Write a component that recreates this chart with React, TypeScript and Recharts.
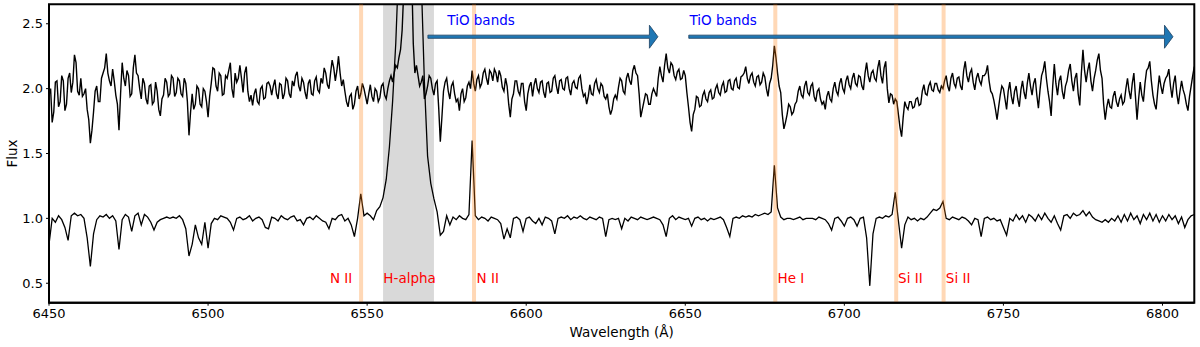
import React from 'react';
import {
  LineChart, Line, XAxis, YAxis, ReferenceLine, ReferenceArea, ReferenceDot,
} from 'recharts';

// Wavelength sampling (Å): whole-Å grid from 6450 to 6810
const WL_START = 6450;
const WL_STEP = 1;

// Upper spectrum (flux) at whole-Å positions 6450, 6451, ...
const UPPER_FLUX = [
  1.95, 1.74, 2.05, 1.86, 2.10, 1.83, 2.08, 1.97, 2.26, 1.98,
  2.08, 1.96, 1.84, 1.58, 1.82, 2.02, 1.90, 2.12, 2.27, 2.06,
  2.15, 1.95, 1.68, 2.20, 2.02, 2.10, 1.96, 2.26, 2.10, 1.92,
  2.04, 1.88, 2.03, 1.90, 1.98, 1.79, 1.95, 2.05, 1.96, 2.08,
  1.97, 2.06, 1.94, 2.04, 1.64, 1.96, 1.88, 2.00, 1.86, 1.98,
  1.78, 2.04, 2.15, 1.98, 2.10, 1.96, 2.08, 2.20, 1.93, 2.05,
  2.18, 1.97, 2.17, 1.90, 1.87, 2.00, 1.88, 2.02, 1.93, 2.05,
  1.95, 2.07, 1.92, 2.03, 1.96, 2.06, 1.93, 2.02, 2.13, 1.98,
  2.05, 1.92, 2.07, 1.95, 2.09, 1.97, 2.04, 2.12, 2.00, 2.22,
  2.06, 2.25, 2.02, 1.98, 1.86, 1.96, 1.88, 2.02, 1.96, 2.00,
  1.88, 2.03, 1.90, 1.98, 1.93, 2.04, 1.92, 2.06, 2.05, 2.18,
  2.24, 2.45, 3.20, 3.80, 2.90, 2.12, 2.10, 2.05, 1.92, 2.02,
  2.08, 1.95, 2.06, 1.59, 1.98, 2.08, 1.92, 2.05, 1.90, 1.83,
  2.00, 1.93, 2.05, 2.14, 1.98, 2.10, 2.04, 2.15, 2.03, 2.12,
  2.15, 2.05, 2.10, 1.98, 2.02, 1.78, 1.96, 2.06, 1.95, 2.04,
  1.83, 2.02, 1.94, 2.08, 1.97, 2.06, 1.93, 2.05, 1.98, 2.10,
  1.96, 2.07, 1.99, 2.09, 1.95, 2.06, 2.00, 2.10, 1.94, 1.88,
  2.03, 1.95, 2.07, 1.97, 2.02, 1.92, 1.86, 1.84, 1.95, 2.01,
  2.06, 1.96, 2.12, 2.03, 2.18, 2.10, 1.78, 1.90, 1.95, 1.88,
  2.00, 1.94, 2.17, 2.05, 2.27, 2.12, 2.18, 2.07, 2.15, 2.08,
  2.10, 1.86, 1.67, 1.84, 1.93, 1.87, 1.98, 1.90, 1.99, 1.93,
  2.03, 1.95, 2.05, 1.98, 2.07, 1.99, 2.08, 2.00, 2.10, 2.17,
  2.04, 2.12, 2.02, 2.10, 2.05, 2.09, 1.94, 2.08, 2.33, 2.12,
  1.97, 1.69, 1.80, 1.86, 1.82, 1.90, 2.02, 1.93, 2.06, 1.95,
  2.04, 1.90, 2.00, 1.88, 1.84, 1.98, 1.90, 2.05, 1.95, 2.08,
  1.97, 2.10, 2.00, 2.12, 2.02, 2.09, 1.99, 2.20, 2.05, 2.14,
  2.06, 2.22, 2.04, 2.21, 1.89, 1.95, 1.92, 1.80, 1.63, 1.90,
  1.84, 1.90, 1.86, 1.93, 1.88, 2.03, 1.95, 2.05, 1.98, 2.04,
  1.97, 2.00, 2.10, 1.98, 2.12, 2.01, 2.09, 1.99, 2.21, 2.05,
  2.15, 1.99, 2.12, 2.03, 2.10, 2.18, 1.98, 1.91, 1.76, 1.95,
  2.00, 1.84, 2.05, 1.88, 2.02, 1.86, 2.06, 1.92, 2.12, 1.95,
  2.08, 1.85, 2.10, 2.21, 1.98, 1.79, 2.19, 1.95, 2.10, 1.92,
  2.06, 2.19, 1.98, 2.12, 1.87, 2.30, 2.05, 2.20, 1.98, 2.14,
  2.27, 2.08, 1.76, 1.92, 1.85, 1.98, 1.86, 1.95, 1.90, 2.08,
  1.92, 2.12, 1.76, 2.05, 1.90, 2.14, 2.21, 1.95, 1.84, 2.10,
  1.96, 2.08, 2.15, 1.93, 2.10, 1.88, 2.06, 1.95, 1.83, 2.02,
  2.17,
];

// Upper spectrum (flux) at half-Å positions 6450.5, 6451.5, ...
const UPPER_FLUX_HALF = [
  2.00, 1.82, 2.06, 1.90, 2.06, 1.88, 2.12, 2.05, 2.20, 1.95,
  1.94, 2.00, 1.76, 1.68, 1.98, 1.90, 2.08, 2.16, 2.12, 2.02,
  2.06, 1.88, 1.96, 2.08, 2.14, 1.94, 2.16, 2.12, 2.00, 2.08,
  1.92, 2.02, 1.88, 2.05, 1.84, 1.92, 2.08, 1.94, 2.10, 1.94,
  2.08, 1.96, 2.08, 1.90, 1.82, 1.84, 2.02, 1.88, 2.00, 1.90,
  1.94, 2.16, 2.02, 2.12, 1.95, 2.10, 2.14, 2.00, 2.12, 2.08,
  2.08, 2.12, 1.98, 1.95, 1.96, 1.90, 2.00, 1.92, 2.04, 2.02,
  2.02, 1.96, 2.04, 1.92, 2.08, 1.96, 2.06, 2.10, 2.02, 2.08,
  1.97, 2.04, 1.96, 2.06, 1.99, 2.08, 2.16, 2.03, 2.12, 2.16,
  2.14, 2.12, 2.07, 1.90, 1.94, 1.84, 1.98, 1.92, 2.04, 1.94,
  1.96, 1.94, 2.00, 1.90, 2.02, 1.95, 2.00, 2.10, 2.12, 2.16,
  2.30, 2.75, 3.60, 3.50, 2.35, 2.18, 2.02, 2.10, 1.96, 2.10,
  2.00, 2.04, 1.85, 1.78, 2.05, 1.98, 2.02, 1.96, 1.92, 1.96,
  1.90, 2.02, 2.00, 2.04, 2.07, 2.01, 2.12, 2.08, 2.14, 2.06,
  2.12, 2.14, 2.01, 2.08, 1.88, 1.92, 2.06, 1.98, 2.04, 1.90,
  1.96, 2.05, 2.03, 2.00, 2.05, 1.97, 2.04, 1.97, 2.08, 2.02,
  2.06, 2.00, 2.08, 2.00, 2.04, 2.01, 2.08, 2.00, 1.96, 1.94,
  1.96, 2.04, 2.00, 2.04, 1.94, 1.96, 1.80, 1.92, 1.92, 2.08,
  1.98, 2.08, 2.06, 2.14, 2.12, 1.96, 1.84, 1.96, 1.88, 1.96,
  1.97, 2.08, 2.10, 2.18, 2.16, 2.20, 2.10, 2.13, 2.07, 2.14,
  1.97, 1.74, 1.80, 1.94, 1.86, 1.95, 1.92, 1.97, 1.92, 2.00,
  1.97, 2.02, 1.97, 2.06, 2.00, 2.06, 2.01, 2.09, 2.12, 2.08,
  2.10, 2.05, 2.09, 2.03, 2.12, 2.00, 2.04, 2.18, 2.24, 2.02,
  1.80, 1.74, 1.88, 1.80, 1.88, 1.98, 1.95, 2.02, 1.97, 2.02,
  1.94, 1.98, 1.92, 1.90, 1.94, 1.92, 2.00, 1.98, 2.04, 2.00,
  2.06, 2.03, 2.08, 2.04, 2.10, 2.02, 2.12, 2.10, 2.12, 2.08,
  2.16, 2.10, 2.16, 2.00, 1.96, 1.88, 1.90, 1.70, 1.78, 1.86,
  1.90, 1.85, 1.92, 1.87, 1.98, 1.96, 2.02, 1.99, 2.04, 1.99,
  2.02, 2.06, 2.02, 2.08, 2.04, 2.08, 2.02, 2.14, 2.10, 2.12,
  2.05, 2.08, 2.06, 2.10, 2.12, 2.06, 1.96, 1.84, 1.86, 2.02,
  1.92, 1.98, 1.94, 1.98, 1.92, 1.99, 1.97, 2.04, 2.02, 2.04,
  1.95, 1.99, 2.14, 2.08, 1.90, 2.02, 2.04, 2.06, 1.98, 2.02,
  2.14, 2.06, 2.08, 1.96, 2.12, 2.14, 2.14, 2.06, 2.08, 2.22,
  2.14, 1.88, 1.86, 1.86, 1.94, 1.90, 1.92, 1.88, 2.00, 1.98,
  2.04, 1.94, 1.92, 1.95, 2.04, 2.16, 2.06, 1.88, 1.98, 2.02,
  2.04, 2.10, 2.02, 2.04, 1.96, 1.98, 1.99, 1.88, 1.94, 2.10,
];

// Lower spectrum (flux) at whole-Å positions 6450, 6451, ...
const LOWER_FLUX = [
  0.80, 1.00, 0.97, 1.02, 0.99, 0.93, 0.83, 1.02, 1.04, 1.02,
  1.03, 1.00, 0.85, 0.63, 0.88, 0.99, 1.02, 1.01, 1.03, 1.00,
  1.02, 0.98, 0.76, 0.99, 1.03, 1.01, 0.90, 1.02, 1.04, 0.95,
  1.03, 1.01, 0.97, 0.91, 0.97, 0.99, 1.00, 1.01, 1.00, 1.01,
  1.00, 1.02, 0.99, 0.92, 0.71, 0.80, 0.95, 0.85, 0.80, 0.97,
  0.77, 0.96, 1.00, 0.99, 1.02, 1.01, 1.00, 0.97, 0.91, 1.00,
  1.01, 0.99, 1.00, 1.02, 0.98, 1.00, 1.01, 0.99, 0.93, 0.92,
  1.01, 1.00, 0.98, 1.02, 1.00, 0.99, 1.01, 1.02, 0.98, 0.99,
  0.95, 1.00, 1.01, 0.99, 1.02, 1.00, 0.98, 0.97, 0.92, 1.00,
  0.99, 1.02, 1.03, 0.98, 1.00, 0.95, 0.86, 1.00, 1.19, 1.02,
  1.04, 1.02, 0.99, 1.06, 1.09, 1.16, 1.30, 1.55, 1.90, 2.35,
  3.00, 3.60, 4.00, 4.20, 4.00, 3.60, 3.10, 2.85, 2.05, 1.48,
  1.27, 1.15, 1.05, 0.87, 0.90, 1.02, 0.95, 1.01, 0.99, 1.02,
  1.00, 0.99, 1.03, 1.60, 1.02, 0.99, 1.01, 1.00, 0.98, 1.01,
  1.00, 0.99, 0.96, 0.84, 0.92, 0.85, 1.00, 1.01, 0.99, 0.90,
  1.00, 1.01, 0.98, 0.96, 1.00, 0.95, 1.01, 1.00, 0.98, 0.88,
  1.00, 1.01, 1.00, 1.02, 0.99, 1.01, 1.00, 1.02, 1.00, 0.99,
  1.01, 1.00, 0.99, 1.01, 1.00, 0.86, 0.99, 1.00, 0.99, 1.00,
  0.92, 1.00, 0.98, 1.01, 1.00, 0.99, 1.01, 1.00, 0.99, 1.00,
  1.01, 1.00, 0.99, 0.95, 0.86, 1.00, 1.02, 0.99, 1.01, 1.00,
  0.99, 1.00, 0.94, 1.00, 1.01, 0.99, 1.00, 0.98, 1.00, 0.99,
  1.00, 1.01, 0.99, 0.93, 0.86, 1.00, 1.01, 1.00, 1.02, 1.01,
  1.02, 1.01, 1.03, 1.02, 1.03, 1.04, 1.03, 1.05, 1.41, 1.08,
  1.01, 0.99, 1.00, 1.00, 0.99, 1.00, 1.01, 0.99, 1.00, 1.00,
  1.00, 0.99, 1.01, 1.00, 0.99, 0.96, 0.91, 1.00, 1.01, 0.98,
  0.94, 1.00, 1.01, 0.99, 0.94, 1.00, 1.01, 0.85, 0.48, 0.88,
  1.00, 1.01, 1.00, 1.02, 1.01, 1.03, 1.20, 0.98, 0.77, 0.95,
  1.01, 0.99, 1.00, 0.98, 1.00, 0.99, 1.01, 1.04, 1.07, 1.06,
  1.08, 1.13, 1.00, 0.99, 1.01, 1.00, 0.99, 1.01, 1.00, 0.98,
  0.95, 1.00, 0.99, 0.86, 1.00, 1.01, 0.99, 1.00, 0.98, 0.99,
  0.93, 0.87, 1.00, 0.98, 1.03, 0.99, 1.02, 0.97, 1.03, 1.01,
  0.98, 1.03, 0.99, 1.04, 1.00, 0.97, 1.02, 0.96, 0.91, 1.02,
  1.03, 1.00, 1.04, 1.02, 1.03, 1.06, 1.02, 1.05, 1.01, 0.99,
  0.98, 0.97, 0.99, 0.97, 1.00, 0.98, 1.02, 0.97, 1.03, 0.98,
  1.04, 0.99, 1.02, 0.96, 1.03, 0.99, 1.04, 0.98, 1.03, 0.97,
  1.02, 0.98, 1.03, 0.99, 1.02, 0.96, 1.01, 0.93, 0.99, 1.02,
  1.03,
];

const X_TICKS = [6450, 6500, 6550, 6600, 6650, 6700, 6750, 6800];
const Y_TICKS = [0.5, 1.0, 1.5, 2.0, 2.5];
const X_DOMAIN = [6450, 6810];
const Y_DOMAIN = [0.35, 2.65];

// Marked spectral lines
const LINE_WAVELENGTHS = [6548.1, 6583.6, 6678.3, 6716.3, 6731.2];
const LINE_LABELS = ['N II', 'H-alpha', 'N II', 'He I', 'Si II', 'Si II'];
const LINE_LABEL_X = [6538.3, 6555.1, 6584.4, 6679.0, 6716.9, 6731.9];
const LINE_LABEL_Y = 0.5;

// H-alpha shaded window
const HALPHA_BAND = [6555, 6571];

// TiO band arrows
const TIO_ARROW_START = [6569.1, 6651.1];
const TIO_ARROW_END = [6641.4, 6803.3];
const TIO_ARROW_Y = 2.4;
const TIO_LABEL = 'TiO bands';
const TIO_LABEL_X = [6575.2, 6651.3];
const TIO_LABEL_Y = 2.49;

const upperData: { wl: number; flux: number }[] = [];
UPPER_FLUX.forEach((v, i) => {
  upperData.push({ wl: WL_START + i * WL_STEP, flux: v });
  if (i < UPPER_FLUX_HALF.length) {
    upperData.push({ wl: WL_START + (i + 0.5) * WL_STEP, flux: UPPER_FLUX_HALF[i] });
  }
});
const lowerData = LOWER_FLUX.map((v, i) => ({ wl: WL_START + i * WL_STEP, flux: v }));

const FONT = '"DejaVu Sans", sans-serif';

const ArrowShape = (p: any) => {
  const { x1, y1, x2 } = p;
  const sw = 1.6;
  const hw = 11.5;
  const hl = 8.5;
  const xb = x2 - hl;
  const pts = [
    [x1, y1 - sw], [xb, y1 - sw], [xb, y1 - hw], [x2, y1],
    [xb, y1 + hw], [xb, y1 + sw], [x1, y1 + sw],
  ];
  return (
    <polygon
      points={pts.map((q) => q.join(',')).join(' ')}
      fill="#1f77b4"
      stroke="#1b3f60"
      strokeWidth={0.8}
    />
  );
};

const makeText = (txt: string, color: string) => (p: any) => (
  <text
    x={p.cx}
    y={p.cy}
    fill={color}
    fontSize={13.5}
    fontFamily={FONT}
    textAnchor="start"
  >
    {txt}
  </text>
);

export default function App() {
  return (
    <div style={{ position: 'absolute', left: 0, top: 0, width: 1200, height: 347, background: '#fff' }}>
      <LineChart
        width={1200}
        height={347}
        margin={{ top: 4.3, right: 5.7, bottom: 0, left: 0 }}
      >
        <XAxis
          dataKey="wl"
          type="number"
          domain={X_DOMAIN}
          ticks={X_TICKS}
          allowDataOverflow
          height={44.3}
          axisLine={{ stroke: '#000', strokeWidth: 2 }}
          tickLine={{ stroke: '#000' }}
          tickSize={3}
          tickMargin={3}
          tick={{ fill: '#000', fontSize: 13, fontFamily: FONT }}
          label={{
            value: 'Wavelength (Å)',
            position: 'insideBottom',
            offset: 10,
            fill: '#000',
            fontSize: 13.5,
            fontFamily: FONT,
          }}
        />
        <YAxis
          type="number"
          domain={Y_DOMAIN}
          ticks={Y_TICKS}
          allowDataOverflow
          width={49}
          axisLine={{ stroke: '#000', strokeWidth: 2 }}
          tickLine={{ stroke: '#000' }}
          tickSize={3}
          tickMargin={3}
          tickFormatter={(v: number) => v.toFixed(1)}
          tick={{ fill: '#000', fontSize: 13, fontFamily: FONT }}
          label={{
            value: 'Flux',
            angle: -90,
            position: 'center',
            dx: -12,
            fill: '#000',
            fontSize: 13.5,
            fontFamily: FONT,
          }}
        />
        <ReferenceArea
          x1={HALPHA_BAND[0]}
          x2={HALPHA_BAND[1]}
          y1={Y_DOMAIN[0]}
          y2={Y_DOMAIN[1]}
          fill="#808080"
          fillOpacity={0.3}
          stroke="none"
        />
        <Line
          data={upperData}
          dataKey="flux"
          stroke="#000"
          strokeWidth={1.4}
          dot={false}
          isAnimationActive={false}
        />
        <Line
          data={lowerData}
          dataKey="flux"
          stroke="#000"
          strokeWidth={1.3}
          dot={false}
          isAnimationActive={false}
        />
        {LINE_WAVELENGTHS.map((w, i) => (
          <ReferenceLine
            key={'l' + i}
            x={w}
            stroke="#ff7f0e"
            strokeOpacity={0.3}
            strokeWidth={4}
          />
        ))}
        {TIO_ARROW_START.map((s, i) => (
          <ReferenceLine
            key={'a' + i}
            segment={[{ x: s, y: TIO_ARROW_Y }, { x: TIO_ARROW_END[i], y: TIO_ARROW_Y }]}
            shape={ArrowShape}
          />
        ))}
        {TIO_LABEL_X.map((x, i) => (
          <ReferenceDot
            key={'t' + i}
            x={x}
            y={TIO_LABEL_Y}
            r={0}
            shape={makeText(TIO_LABEL, '#0000ff')}
          />
        ))}
        {LINE_LABELS.map((t, i) => (
          <ReferenceDot
            key={'n' + i}
            x={LINE_LABEL_X[i]}
            y={LINE_LABEL_Y}
            r={0}
            shape={makeText(t, '#ff0000')}
          />
        ))}
        <ReferenceArea
          x1={X_DOMAIN[0]}
          x2={X_DOMAIN[1]}
          y1={Y_DOMAIN[0]}
          y2={Y_DOMAIN[1]}
          fill="none"
          stroke="#000"
          strokeWidth={2}
        />
      </LineChart>
    </div>
  );
}
